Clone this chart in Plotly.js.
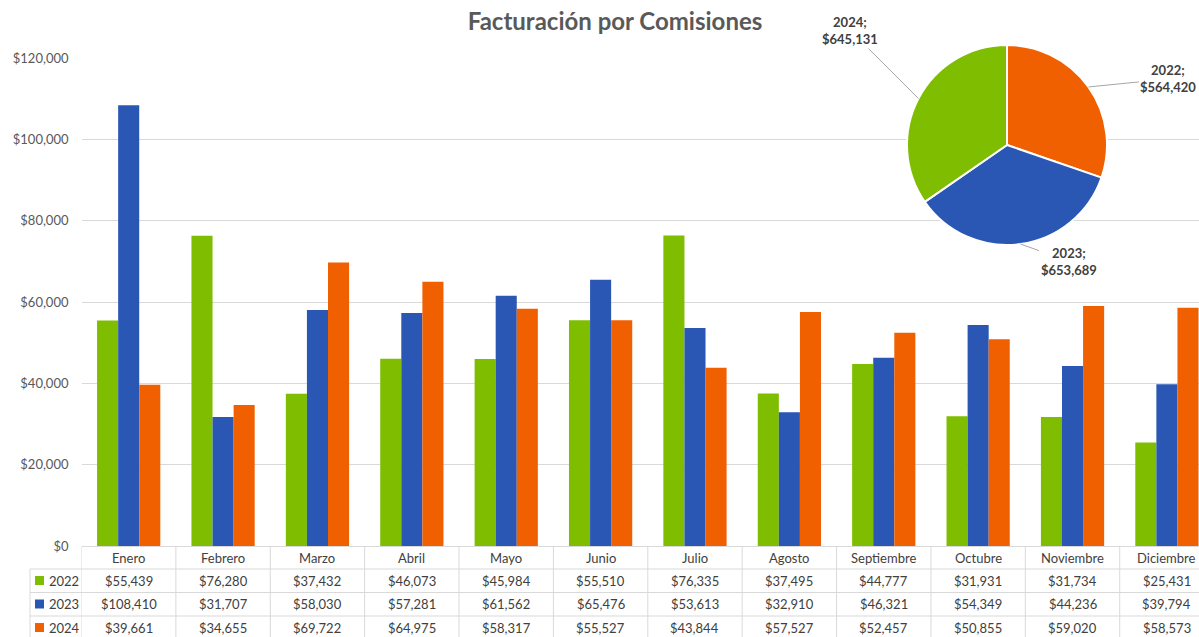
<!DOCTYPE html>
<html><head><meta charset="utf-8">
<script src="https://cdn.plot.ly/plotly-3.0.1.min.js"></script>
<style>html,body{margin:0;padding:0;background:#fff}#chart{width:1199px;height:637px}</style>
</head><body><div id="chart"></div>
<script>
// ---- data ----
const months = ["Enero","Febrero","Marzo","Abril","Mayo","Junio","Julio","Agosto","Septiembre","Octubre","Noviembre","Diciembre"];
const years = ["2022","2023","2024"];
const v2022 = [55439,76280,37432,46073,45984,55510,76335,37495,44777,31931,31734,25431];
const v2023 = [108410,31707,58030,57281,61562,65476,53613,32910,46321,54349,44236,39794];
const v2024 = [39661,34655,69722,64975,58317,55527,43844,57527,52457,50855,59020,58573];
const pieLabels = ["2022","2023","2024"];
const pieTotals = [564420,653689,645131];
const yTicks = [0,20000,40000,60000,80000,100000,120000];

// ---- styles ----
const barColors = ['#7ebd00','#2a57b4','#f06000'];
const pieColors = ['#f06000','#2a57b4','#7ebd00'];
const FONT = "Lato, 'Open Sans', sans-serif";
const W = 1199, H = 637;
const px = x => x / W;
const py = y => 1 - y / H;
const gridCol = '#d9d9d9';
const textCol = '#404040';

const series = [v2022, v2023, v2024];
const fmt = n => '$' + n.toLocaleString('en-US');

const traces = series.map((vals, i) => ({
  type: 'bar', x: months, y: vals, name: years[i],
  marker: {color: barColors[i]}, showlegend: false, hoverinfo: 'skip'
}));

// pie
const pieCx = 1007, pieCy = 145, pieR = 100;
traces.push({
  type: 'pie', labels: pieLabels, values: pieTotals, sort: false,
  direction: 'clockwise', rotation: 0, textinfo: 'none', hoverinfo: 'skip',
  marker: {colors: pieColors, line: {color: '#ffffff', width: 2}},
  domain: {x: [px(pieCx - pieR), px(pieCx + pieR)], y: [py(pieCy + pieR), py(pieCy - pieR)]},
  showlegend: false
});

const annotations = [];
const shapes = [];

// pie labels with leader lines
const total = pieTotals.reduce((a, b) => a + b, 0);
const labelOffsets = [[80, -8], [48, 17], [-68, -68]];
let acc = 0;
pieTotals.forEach((v, i) => {
  const mid = (acc + v / 2) / total * 2 * Math.PI;
  acc += v;
  const hx = pieCx + pieR * Math.sin(mid), hy = pieCy - pieR * Math.cos(mid);
  annotations.push({
    xref: 'paper', yref: 'paper', x: px(hx), y: py(hy),
    text: '<b>' + pieLabels[i] + ';<br>' + fmt(v) + '</b>',
    showarrow: true, arrowhead: 0, arrowwidth: 1, arrowcolor: '#a6a6a6',
    ax: labelOffsets[i][0], ay: labelOffsets[i][1], standoff: 0,
    font: {family: FONT, size: 13, color: textCol}, align: 'center'
  });
});

// data table
const tableLeft = 30, plotLeft = 81.5;
const rowLines = [569, 592.5, 616];
const rowCenters = [557.5, 580.5, 604, 627.5];
months.forEach((m, j) => {
  annotations.push({xref: 'x', yref: 'paper', x: j, y: py(rowCenters[0]), yanchor: 'middle', xanchor: 'center', text: m,
    showarrow: false, font: {family: FONT, size: 13, color: textCol}});
  series.forEach((vals, i) => {
    annotations.push({xref: 'x', yref: 'paper', x: j, y: py(rowCenters[i + 1]), yanchor: 'middle', xanchor: 'center',
      text: fmt(vals[j]), showarrow: false, font: {family: FONT, size: 13, color: textCol}});
  });
});
years.forEach((yr, i) => {
  annotations.push({xref: 'paper', yref: 'paper', x: px(47), xanchor: 'left', y: py(rowCenters[i + 1]), yanchor: 'middle',
    text: yr, showarrow: false, font: {family: FONT, size: 13, color: textCol}});
  shapes.push({type: 'rect', xref: 'paper', yref: 'paper', x0: px(35), x1: px(44),
    y0: py(rowCenters[i + 1] + 4.5), y1: py(rowCenters[i + 1] - 4.5),
    fillcolor: barColors[i], line: {width: 0}});
});
rowLines.forEach(y => shapes.push({type: 'line', xref: 'paper', yref: 'paper',
  x0: px(tableLeft), x1: 1, y0: py(y), y1: py(y), line: {color: gridCol, width: 1}}));
for (let k = 0; k <= months.length; k++) {
  shapes.push({type: 'line', xref: 'x', yref: 'paper', x0: k - 0.5, x1: k - 0.5,
    y0: py(546), y1: 0, line: {color: gridCol, width: 1}});
}
shapes.push({type: 'line', xref: 'paper', yref: 'paper', x0: px(tableLeft), x1: px(tableLeft),
  y0: py(rowLines[0]), y1: 0, line: {color: gridCol, width: 1}});

const layout = {
  width: W, height: H,
  margin: {l: 0, r: 0, t: 0, b: 0, pad: 0},
  paper_bgcolor: '#ffffff', plot_bgcolor: '#ffffff',
  title: {text: '<b>Facturación por Comisiones</b>', x: px(615), xanchor: 'center',
    y: py(22), yanchor: 'middle', font: {family: FONT, size: 24, color: '#595959'}},
  barmode: 'group', bargap: 0.33, bargroupgap: 0,
  xaxis: {domain: [px(plotLeft), 1], range: [-0.5, 11.34], showticklabels: false,
    showgrid: false, zeroline: false, showline: true, linecolor: gridCol, linewidth: 1, ticks: '',
    fixedrange: true},
  yaxis: {domain: [py(546), py(58)], range: [0, 120000], tickvals: yTicks,
    ticktext: yTicks.map(fmt), showgrid: true, gridcolor: gridCol, gridwidth: 1,
    zeroline: false, showline: false, ticks: '', ticklabelstandoff: 12,
    tickfont: {family: FONT, size: 13, color: '#595959'}, fixedrange: true},
  annotations: annotations, shapes: shapes,
  font: {family: FONT}
};

Plotly.newPlot('chart', traces, layout, {staticPlot: true, displayModeBar: false});
</script>
</body></html>
